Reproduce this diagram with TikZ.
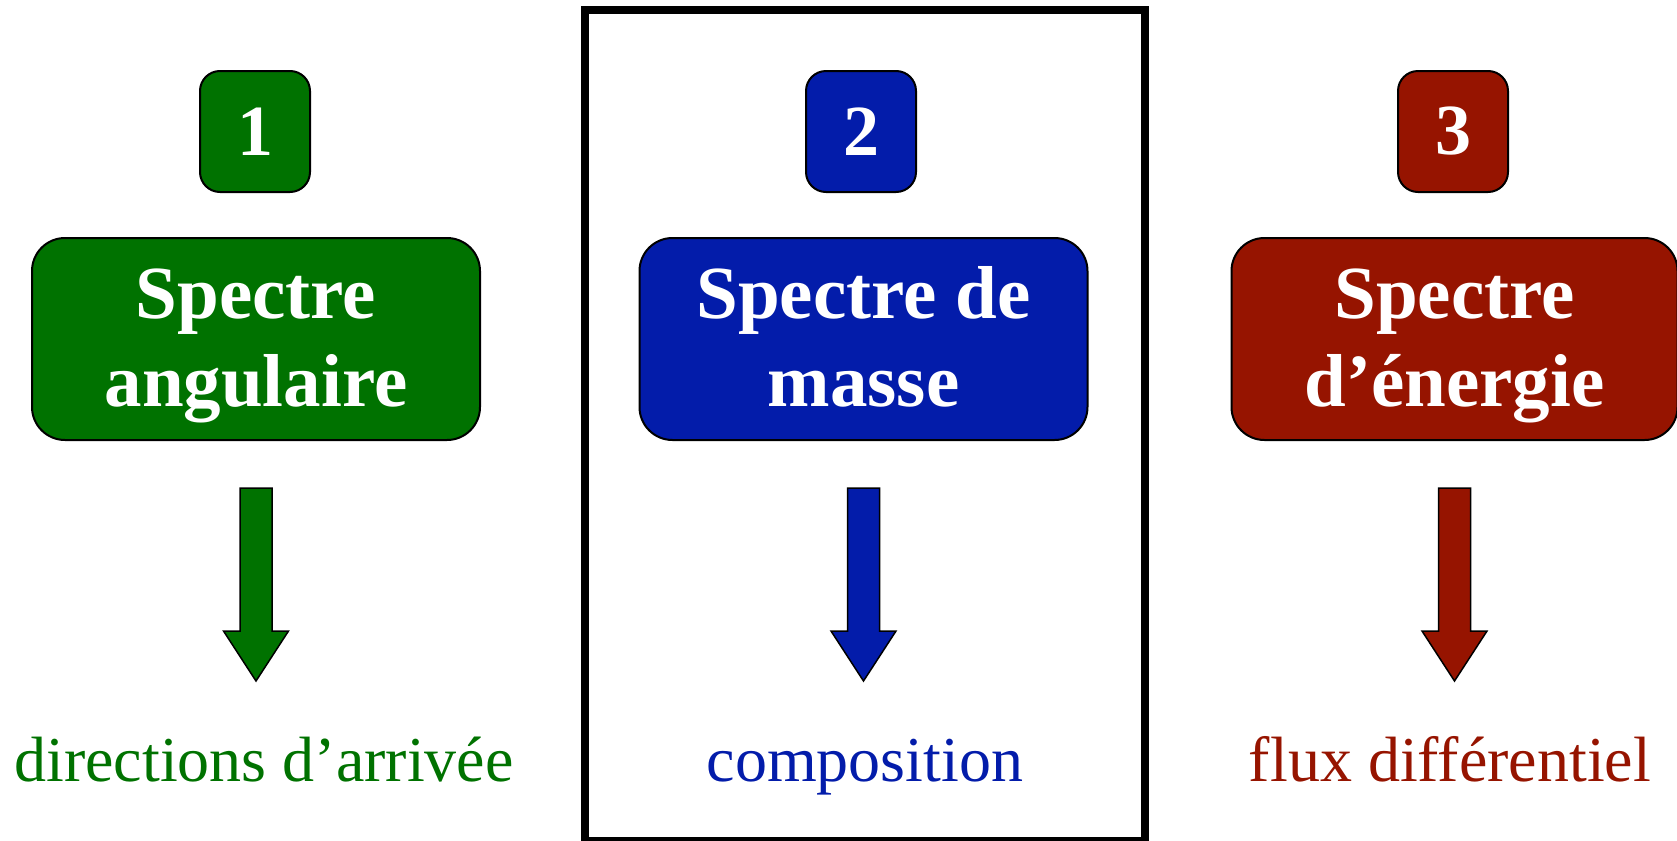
\documentclass[tikz,border=0pt]{standalone}
\usepackage{fontspec}
\setmainfont{Liberation Serif}
\usetikzlibrary{calc}
\definecolor{vert}{RGB}{0,114,0}
\definecolor{bleu}{RGB}{3,28,170}
\definecolor{rouge}{RGB}{150,20,0}
\begin{document}
\begin{tikzpicture}[x=0.5pt,y=-0.5pt,
  numbox/.style={draw=black, line width=1pt, rounded corners=10pt,
    minimum width=55pt, minimum height=60.5pt, inner sep=0pt, text=white,
    font=\bfseries\fontsize{36}{40}\selectfont},
  bigbox/.style={draw=black, line width=1pt, rounded corners=16.5pt,
    minimum width=224pt, minimum height=101pt, inner sep=0pt},
  boxline/.style={anchor=base, text=white, inner sep=0pt,
    font=\bfseries\fontsize{37.5}{44}\selectfont},
  result/.style={anchor=base, inner sep=0pt, font=\fontsize{32}{38}\selectfont},
  blockarrow/.style={draw=black, line width=0.75pt, line join=miter}
]
\useasboundingbox (0,0) rectangle (1677,841);

% frame around the middle column
\draw[line width=4pt] (585,9.5) rectangle (1145,841);

% numbered tags
\node[numbox, fill=vert]  (g-num) at (255,131.5) {1};
\node[numbox, fill=bleu]  (b-num) at (861,131.5) {2};
\node[numbox, fill=rouge] (r-num) at (1453,131.5) {3};

% spectrum boxes
\node[bigbox, fill=vert]  (g-box) at (256,339) {};
\node[bigbox, fill=bleu]  (b-box) at (863.5,339) {};
\node[bigbox, fill=rouge, minimum width=223pt] (r-box) at (1454.5,339) {};

\node[boxline] (g-l1) at ($(g-box.center)+(0,-21)$) {Spectre};
\node[boxline] (g-l2) at ($(g-box.center)+(0,67)$) {angulaire};
\node[boxline] (b-l1) at ($(b-box.center)+(0,-21)$) {Spectre de};
\node[boxline] (b-l2) at ($(b-box.center)+(0,67)$) {masse};
\node[boxline] (r-l1) at ($(r-box.center)+(0,-21)$) {Spectre};
\node[boxline] (r-l2) at ($(r-box.center)+(0,67)$) {d’énergie};

% results
\node[result, text=vert]  (g-res) at (264,781) {directions d’arrivée};
\node[result, text=bleu]  (b-res) at (865,781) {composition};
\node[result, text=rouge] (r-res) at (1450,781) {flux différentiel};

% block arrows from each box towards its result
\foreach \k/\c in {g/vert,b/bleu,r/rouge}{
  \coordinate (\k-top) at ($(\k-box.south)+(0,47)$);
  \coordinate (\k-tip) at ($(\k-top)+(0,193)$);
  \draw[blockarrow, fill=\c]
    ($(\k-top)+(-16,0)$) -- ($(\k-top)+(16,0)$) -- ($(\k-tip)+(16,-50)$)
    -- ($(\k-tip)+(32.5,-50)$) -- (\k-tip) -- ($(\k-tip)+(-32.5,-50)$)
    -- ($(\k-tip)+(-16,-50)$) -- cycle;
}
\end{tikzpicture}
\end{document}
